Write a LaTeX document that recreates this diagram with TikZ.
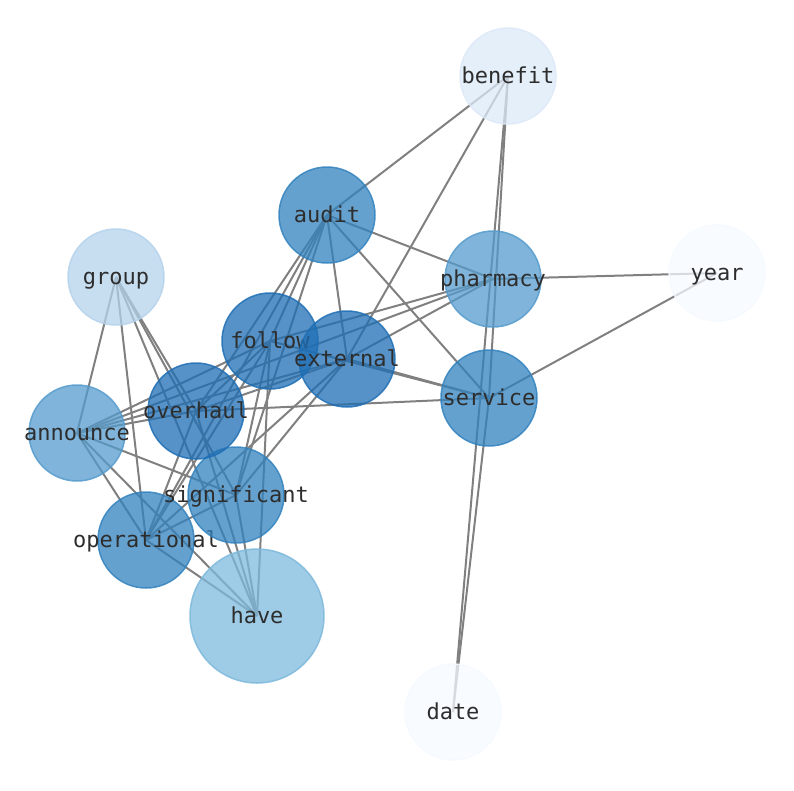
\documentclass[tikz,border=0pt]{standalone}
\usepackage{fontspec}
\newfontfamily\wordfont{DejaVu Sans Mono}
\usetikzlibrary{backgrounds}
\definecolor{deepblue}{RGB}{30,110,180}
\definecolor{midblue}{RGB}{50,130,190}
\definecolor{softblue}{RGB}{85,155,205}
\definecolor{paleblue}{RGB}{125,185,220}
\definecolor{mistblue}{RGB}{180,210,235}
\definecolor{iceblue}{RGB}{220,233,247}
\definecolor{snowblue}{RGB}{245,250,255}
\definecolor{wordgray}{RGB}{45,45,45}
\newcommand\wordbox[1]{\makebox[0pt]{#1}}

\begin{document}
\begin{tikzpicture}[x=1pt,y=-1pt,
    word/.style={circle,minimum size=96pt,inner sep=0pt,line width=1.5pt,
      fill=#1,draw=#1,fill opacity=0.75,draw opacity=0.85,text opacity=1,
      text height=20pt,text depth=5pt,
      text=wordgray,font=\wordfont\fontsize{22}{26}\selectfont},
    link/.style={draw=black!50,line width=2pt}]
    \useasboundingbox (0,0) rectangle (794,790);

      \node[word=iceblue]   (benefit)     at (508,76)  {\wordbox{benefit}};
      \node[word=snowblue]  (year)        at (717,273) {\wordbox{year}};
      \node[word=snowblue]  (date)        at (453,712) {\wordbox{date}};
      \node[word=mistblue]  (group)       at (116,277) {\wordbox{group}};
      \node[word=midblue]   (audit)       at (327,215) {\wordbox{audit}};
      \node[word=softblue]  (pharmacy)    at (493,279) {\wordbox{pharmacy}};
      \node[word=midblue]   (service)     at (489,398) {\wordbox{service}};
      \node[word=softblue]  (announce)    at (77,433)  {\wordbox{announce}};
      \node[word=paleblue,minimum size=134pt] (have) at (257,616) {\wordbox{have}};
      \node[word=midblue]   (operational) at (146,540) {\wordbox{operational}};
      \node[word=midblue]   (significant) at (236,495) {\wordbox{significant}};
      \node[word=deepblue]  (overhaul)    at (196,411) {\wordbox{overhaul}};
      \node[word=deepblue]  (follow)      at (270,341) {\wordbox{follow}};
      \node[word=deepblue]  (external)    at (347,359) {\wordbox{external}};

    \begin{scope}[on background layer]
      \path[link] (benefit.center) edge (audit.center)
                  (benefit.center) edge (external.center)
                  (benefit.center) edge (service.center)
                  (benefit.center) edge (date.center)
                  (service.center) edge (date.center)
                  (service.center) edge (year.center)
                  (pharmacy.center) edge (year.center)
                  (audit.center) edge (pharmacy.center)
                  (audit.center) edge (service.center)
                  (audit.center) edge (external.center)
                  (audit.center) edge (follow.center)
                  (audit.center) edge (overhaul.center)
                  (audit.center) edge (significant.center)
                  (audit.center) edge (operational.center)
                  (follow.center) edge (pharmacy.center)
                  (follow.center) edge (service.center)
                  (follow.center) edge (announce.center)
                  (follow.center) edge (overhaul.center)
                  (follow.center) edge (operational.center)
                  (follow.center) edge (significant.center)
                  (follow.center) edge (have.center)
                  (external.center) edge (service.center)
                  (external.center) edge (pharmacy.center)
                  (external.center) edge (announce.center)
                  (external.center) edge (overhaul.center)
                  (external.center) edge (operational.center)
                  (external.center) edge (significant.center)
                  (overhaul.center) edge (service.center)
                  (overhaul.center) edge (group.center)
                  (overhaul.center) edge (announce.center)
                  (overhaul.center) edge (have.center)
                  (overhaul.center) edge (operational.center)
                  (group.center) edge (announce.center)
                  (group.center) edge (operational.center)
                  (group.center) edge (significant.center)
                  (group.center) edge (have.center)
                  (announce.center) edge (pharmacy.center)
                  (announce.center) edge (operational.center)
                  (announce.center) edge (significant.center)
                  (announce.center) edge (have.center)
                  (operational.center) edge (significant.center)
                  (operational.center) edge (have.center)
                  (significant.center) edge (have.center);
    \end{scope}
    \end{tikzpicture}
\end{document}
